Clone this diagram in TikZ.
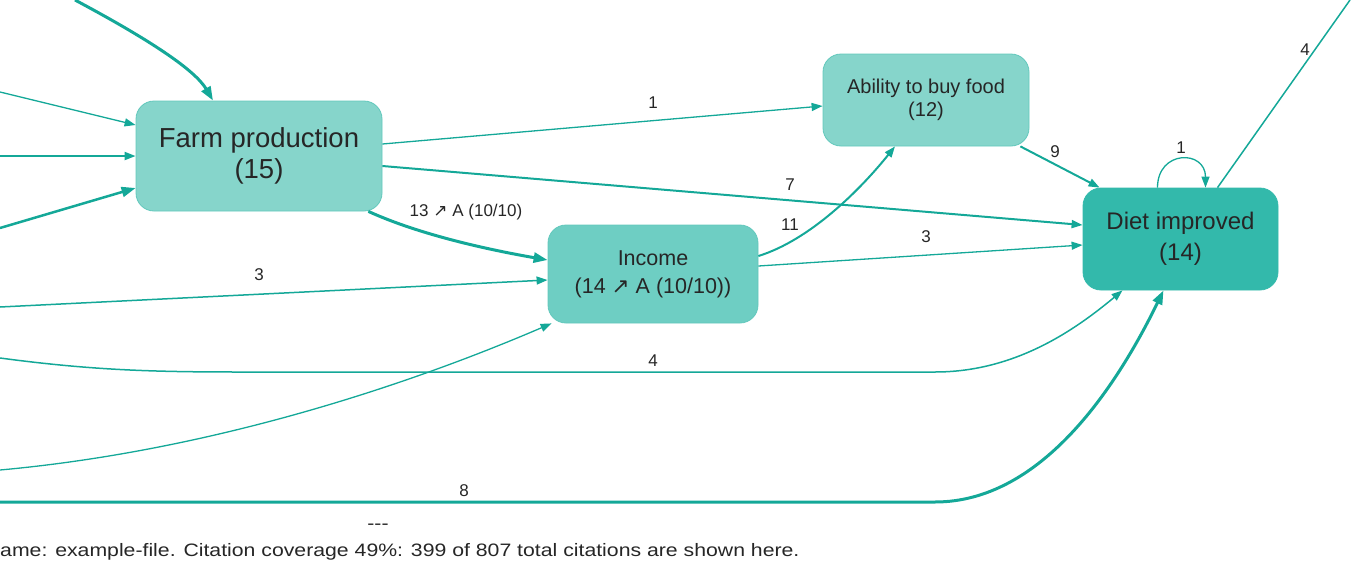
\documentclass[tikz,border=0pt]{standalone}
\usepackage{fontspec}
\setmainfont{Liberation Sans}
\newfontfamily\arrowfont{DejaVu Sans}
\newfontfamily\widefont[FakeStretch=1.18]{Liberation Sans}
\usetikzlibrary{arrows.meta,calc}

\definecolor{linkcolor}{RGB}{20,168,152}
\definecolor{lightfill}{RGB}{134,213,203}
\definecolor{midfill}{RGB}{110,206,195}
\definecolor{darkfill}{RGB}{51,185,171}
\definecolor{boxline}{RGB}{98,200,188}
\newcommand{\upar}{{\arrowfont\char"2197}}

\begin{document}
\begin{tikzpicture}
    [x=1pt, y=-1pt,
    every node/.style={text=black!85},
    factor/.style={draw=boxline, line width=0.8pt, rounded corners=18pt, align=center, inner sep=0pt},
    link/.style={draw=linkcolor, line width=1.3pt, -{Triangle[length=11pt,width=8pt]}},
    thicklink/.style={link, line width=2pt},
    heavylink/.style={link, line width=3pt, -{Triangle[length=14pt,width=10pt]}},
    count/.style={font=\fontsize{17}{17}\selectfont, inner sep=0pt},
    note/.style={font=\widefont\fontsize{18}{18}\selectfont, inner sep=0pt}
    ]
    \useasboundingbox (0,0) rectangle (1366,568);

    \node (farm) [factor, fill=lightfill, minimum width=246pt, minimum height=110pt,
        font=\fontsize{27.5}{31}\selectfont] at (259,156) {Farm production\\(15)};
    \node (ability) [factor, fill=lightfill, minimum width=206pt, minimum height=92pt,
        font=\fontsize{20}{23}\selectfont] at (926,100) {Ability to buy food\\(12)};
    \node (income) [factor, fill=midfill, minimum width=210pt, minimum height=98pt,
        font=\fontsize{21.5}{28}\selectfont] at (653,274) {Income\\(14 \upar{} A (10/10))};
    \node (diet) [factor, fill=darkfill, draw=darkfill, minimum width=195pt, minimum height=102pt,
        font=\fontsize{24}{31}\selectfont] at (1180.5,239) {Diet improved\\(14)};

    \coordinate (srcA) at (75,0);
    \coordinate (srcB) at (0,92);
    \coordinate (srcC) at (0,156);
    \coordinate (srcD) at (0,228);
    \coordinate (srcE) at (0,307);
    \coordinate (srcF) at (0,358);
    \coordinate (srcG) at (0,470);
    \coordinate (srcH) at (0,502);
    \coordinate (sinkA) at (1350,0);

    \draw [heavylink] (srcA) .. controls (150,40) and (195,70) .. ($(farm.north)+(-46,0)$);
    \draw [link] (srcB) -- ($(farm.west)+(0,-31)$);
    \draw [thicklink] (srcC) -- (farm.west);
    \draw [heavylink, line width=2.5pt] (srcD) -- ($(farm.west)+(0,32)$);
    \draw [link] ($(farm.east)+(0,-12)$) -- ($(ability.west)+(0,6)$);
    \draw [thicklink] ($(farm.east)+(0,10)$) -- ($(diet.west)+(0,-14)$);
    \draw [heavylink] ($(farm.south east)+(-14,0)$) .. controls (420,235) and (490,250) .. ($(income.west)+(0,-14)$);
    \draw [link, line width=1.5pt] (srcE) -- ($(income.west)+(0,6)$);
    \draw [link, line width=1.5pt] (srcF) .. controls (90,370) and (150,372) .. (240,372) -- (935,372)
        .. controls (1015,372) and (1075,330) .. ($(diet.south)+(-58,0)$);
    \draw [link] (srcG) .. controls (220,450) and (420,380) .. ($(income.south west)+(4,0)$);
    \draw [heavylink] (srcH) -- (935,502) .. controls (1040,502) and (1115,390) .. ($(diet.south)+(-17,0)$);
    \draw [thicklink] ($(income.east)+(0,-18)$) .. controls (810,240) and (860,190) .. ($(ability.south)+(-31,0)$);
    \draw [link] ($(income.east)+(0,-8)$) -- ($(diet.west)+(0,6)$);
    \draw [thicklink] ($(ability.south east)+(-9,0)$) -- ($(diet.north west)+(17,0)$);
    \draw [link] ($(diet.north)+(-23,0)$) .. controls +(0,-38) and +(0,-38) .. ($(diet.north)+(25,0)$);
    \draw [link, line width=1.5pt, -] ($(diet.north)+(37,0)$) -- (sinkA);

    \node (cntFarmAbility) [count] at (653,103) {1};
    \node (cntFarmDiet) [count] at (790,185) {7};
    \node (cntFarmIncome) [count] at (466,212) {13 \upar{} A (10/10)};
    \node (cntIncomeIn) [count] at (259,275) {3};
    \node (cntDietFour) [count] at (653,361) {4};
    \node (cntDietEight) [count] at (464,491) {8};
    \node (cntIncomeAbility) [count] at (790,225) {11};
    \node (cntIncomeDiet) [count] at (926,237) {3};
    \node (cntAbilityDiet) [count] at (1055,152) {9};
    \node (cntDietSelf) [count] at (1181,148) {1};
    \node (cntDietOut) [count] at (1305,50) {4};

    \node (dashes) [note] at (378,527) {-{}-{}-};
    \node (caption) [note, anchor=base west] at (0,556)
        {ame: example-file. Citation coverage 49\%: 399 of 807 total citations are shown here.};
\end{tikzpicture}
\end{document}
